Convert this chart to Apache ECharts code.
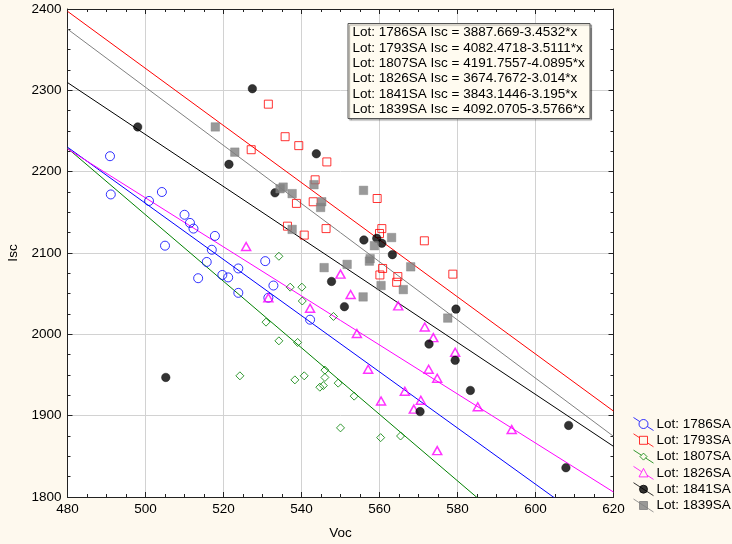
<!DOCTYPE html>
<html>
<head>
<meta charset="utf-8">
<style>
  html, body { margin: 0; padding: 0; background: #FEF9EE; }
  #chart { width: 732px; height: 544px; }
</style>
<script src="https://cdn.jsdelivr.net/npm/echarts@6/dist/echarts.min.js"></script>
</head>
<body>
<div id="chart"></div>
<script>
// Lot names, in legend order
const lots = ['1786SA', '1793SA', '1807SA', '1826SA', '1841SA', '1839SA'];

// Measured (Voc, Isc) pairs per lot
const lot1786 = [[490.9,2219],[491.1,2172],[500.9,2164],[504.2,2175],[510,2147],[511.4,2137],[512.3,2130],[517.8,2121],[505,2109],[517,2104],[515.7,2089],[530.7,2090],[523.8,2081],[513.5,2069],[519.7,2073],[521.2,2070],[532.8,2060],[523.8,2051],[531.5,2045],[542.2,2018]];
const lot1793 = [[531.5,2283],[535.8,2243],[539.3,2232],[527.1,2227],[546.5,2212],[543.5,2190],[543,2163],[538.7,2161],[546.3,2130],[536.4,2133],[540.7,2122],[559.4,2167],[560.6,2130],[560,2124],[571.5,2115],[560.8,2081],[560.1,2073],[564.7,2071],[564.4,2064],[578.8,2074]];
const lot1807 = [[534.2,2096],[537.1,2058],[540.1,2058],[540.2,2041],[530.9,2015],[534.2,1992],[539,1990],[548.2,2022],[524.2,1949],[538.3,1944],[540.7,1949],[546,1956],[546,1947],[545.6,1937],[544.7,1935],[549.4,1940],[553.5,1924],[550,1885],[560.3,1873],[565.4,1875]];
const lot1826 = [[525.8,2108],[531.5,2045],[542.2,2032],[550,2074],[552.6,2049],[554.2,2001],[564.8,2035],[571.6,2009],[573.8,1996],[579.4,1978],[557.1,1957],[572.6,1957],[574.8,1946],[566.5,1930],[560.4,1918],[570.6,1919],[568.8,1908],[585.2,1911],[593.9,1883],[574.8,1857]];
const lot1841 = [[527.4,2302],[498,2255],[521.4,2209],[543.8,2222],[533.2,2174],[556,2116],[559.3,2118],[560.6,2112],[563.3,2098],[547.7,2065],[551,2034],[579.6,2031],[572.7,1988],[579.4,1968],[583.3,1931],[570.4,1905],[608.5,1888],[607.8,1836],[505.2,1947]];
const lot1839 = [[517.9,2255],[522.9,2224],[535.3,2181],[534.5,2179],[537.6,2173],[543.2,2184],[545.2,2163],[544.9,2156],[537.6,2129],[555.9,2177],[563.1,2119],[558.7,2109],[557.6,2093],[551.7,2086],[557.4,2090],[568,2083],[560.4,2060],[566.1,2055],[555.8,2046],[577.5,2020],[545.8,2082]];

// Fitted lines Isc = intercept - slope * Voc
const intercepts = [3887.669, 4082.4718, 4191.7557, 3674.7672, 3843.1446, 4092.0705];
const slopes = [3.4532, 3.5111, 4.0895, 3.014, 3.195, 3.5766];

// Axis ranges
const vocRange = [480, 620];
const iscRange = [1800, 2400];

const points = [lot1786, lot1793, lot1807, lot1826, lot1841, lot1839];
const colors = ['#0000FF', '#FF0000', '#008000', '#FF00FF', '#000000', '#808080'];
const hollow = [true, true, true, true, false, false];
const symbols = ['circle', 'rect', 'diamond', 'triangle', 'circle', 'rect'];
const sizes = [9, 8, [8, 8], [9, 8], 8.5, 8.5];
const borderWidths = [1, 1, 1, 1.5, 1, 1];

// Legend glyphs: marker with a diagonal stroke through it (box 20 x 13)
const legendIcons = [
  'path://M0,0L6.2,4M13.8,9L20,13M14.5,6.5A4.5,4.5,0,1,1,5.5,6.5A4.5,4.5,0,1,1,14.5,6.5Z',
  'path://M0,0L6,3.9M14,9.1L20,13M6,2.5L14,2.5L14,10.5L6,10.5Z',
  'path://M0,0L7.9,5.1M12.1,7.9L20,13M10,3L13.5,6.5L10,10L6.5,6.5Z',
  'path://M0,0L8.2,5.35M13.6,8.85L20,13M10,2L14.5,10.5L5.5,10.5Z',
  'path://M0,0L20,13M14,6.5A4,4,0,1,1,6,6.5A4,4,0,1,1,14,6.5Z',
  'path://M0,0L20,13M6,2.5L14,2.5L14,10.5L6,10.5Z'
];

const FONT = 'Liberation Sans, Arial, sans-serif';
const FS = 13.5;

const names = lots.map(l => 'Lot: ' + l);
const eqText = lots.map((l, i) => 'Lot: ' + l + ' Isc = ' + intercepts[i] + '-' + slopes[i] + '*x').join('\n');

const series = [];
// regression lines first so markers sit on top
lots.forEach((l, i) => {
  series.push({
    type: 'line',
    name: 'fit ' + l,
    silent: true,
    showSymbol: false,
    symbol: 'none',
    clip: true,
    z: 2,
    lineStyle: { color: colors[i], width: 1 },
    data: vocRange.map(x => [x, intercepts[i] - slopes[i] * x])
  });
});
lots.forEach((l, i) => {
  series.push({
    type: 'scatter',
    name: names[i],
    symbol: symbols[i],
    symbolSize: sizes[i],
    z: 3,
    itemStyle: {
      color: hollow[i] ? 'rgba(255,255,255,0)' : colors[i],
      borderColor: colors[i],
      borderWidth: hollow[i] ? borderWidths[i] : 0.5
    },
    emphasis: { disabled: true },
    data: points[i]
  });
});

const axisCommon = {
  type: 'value',
  axisLine: { show: true, onZero: false, lineStyle: { color: '#222', width: 1 } },
  axisTick: { show: true, inside: true, length: 5, lineStyle: { color: '#222' } },
  minorTick: { show: true, splitNumber: 4, length: 3, lineStyle: { color: '#222' } }
};
const plainNumber = v => String(v);

const chart = echarts.init(document.getElementById('chart'), null, { renderer: 'canvas' });
chart.setOption({
  backgroundColor: '#FEF9EE',
  animation: false,
  textStyle: { fontFamily: FONT },
  grid: {
    left: 67.5, right: 118.5, top: 9, bottom: 47,
    outerBoundsMode: 'none',
    containLabel: false,
    show: true, backgroundColor: '#FFFFFF', borderWidth: 0
  },
  title: {
    text: eqText,
    left: 348, top: 23,
    padding: [2, 5, 2, 4.5],
    backgroundColor: '#FFFBF0',
    borderColor: '#555',
    borderWidth: 1,
    shadowColor: 'rgba(0,0,0,0.35)',
    shadowOffsetX: 1.5,
    shadowOffsetY: 1.5,
    shadowBlur: 1,
    textStyle: { fontSize: FS, fontWeight: 'normal', color: '#000', fontFamily: FONT, lineHeight: 15.3 }
  },
  legend: {
    orient: 'vertical',
    left: 633, top: 417,
    padding: 0,
    itemWidth: 20, itemHeight: 13, itemGap: 2.3,
    selectedMode: false,
    data: names.map((n, i) => ({ name: n, icon: legendIcons[i] })),
    itemStyle: { borderWidth: 1 },
    textStyle: { fontSize: FS, color: '#000', fontFamily: FONT, padding: [0, 0, 0, -2] }
  },
  xAxis: [
    Object.assign({}, axisCommon, {
      position: 'bottom',
      min: vocRange[0], max: vocRange[1], interval: 20,
      name: 'Voc', nameLocation: 'middle', nameGap: 29,
      nameTextStyle: { fontSize: FS, color: '#000', fontFamily: FONT },
      axisLabel: { fontSize: FS, color: '#000', margin: 5, fontFamily: FONT, formatter: plainNumber },
      splitLine: { show: true, lineStyle: { color: '#D2D2D2', width: 1 } }
    }),
    Object.assign({}, axisCommon, {
      position: 'top',
      min: vocRange[0], max: vocRange[1], interval: 20,
      axisLabel: { show: false },
      splitLine: { show: false }
    })
  ],
  yAxis: [
    Object.assign({}, axisCommon, {
      position: 'left',
      min: iscRange[0], max: iscRange[1], interval: 100,
      name: 'Isc', nameLocation: 'middle', nameGap: 47,
      nameTextStyle: { fontSize: FS, color: '#000', fontFamily: FONT },
      axisLabel: { fontSize: FS, color: '#000', margin: 6, fontFamily: FONT, formatter: plainNumber },
      splitLine: { show: true, lineStyle: { color: '#D2D2D2', width: 1 } }
    }),
    Object.assign({}, axisCommon, {
      position: 'right',
      min: iscRange[0], max: iscRange[1], interval: 100,
      axisLabel: { show: false },
      splitLine: { show: false }
    })
  ],
  series: series
});
</script>
</body>
</html>
